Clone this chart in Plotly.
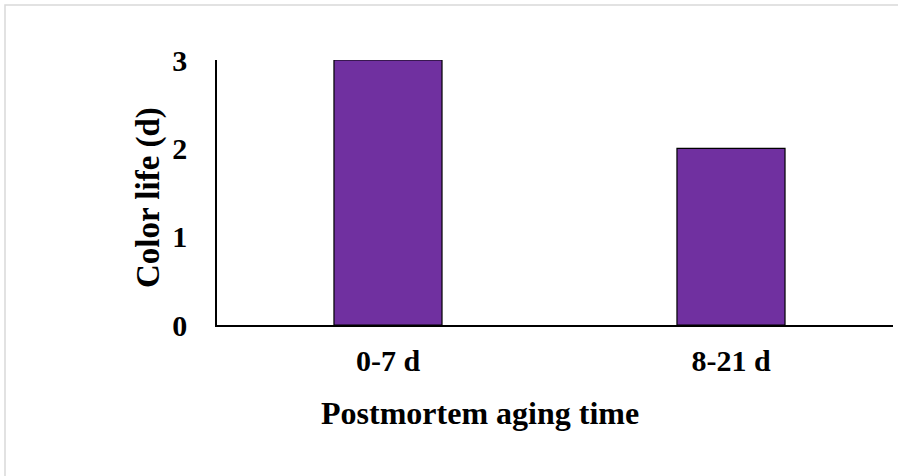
import plotly.graph_objects as go

categories = ["0-7 d", "8-21 d"]
color_life = [3, 2]
y_ticks = [0, 1, 2, 3]

W, H = 898, 476
L, R, T, B = 217, 5, 60, 151
pw = W - L - R
ph = H - T - B

font_family = "Liberation Serif, Times New Roman, serif"

fig = go.Figure(go.Bar(
    x=[0, 1], y=color_life,
    marker=dict(color="#7030A0", line=dict(color="black", width=1.2)),
    width=0.315,
))

fig.update_layout(
    width=W, height=H,
    margin=dict(l=L, r=R, t=T, b=B),
    paper_bgcolor="white", plot_bgcolor="white",
    showlegend=False,
    font=dict(family=font_family, size=30, color="black"),
    xaxis=dict(
        range=[-0.4985, 1.4723],
        tickvals=[0, 1], ticktext=categories,
        showline=True, linecolor="black", linewidth=1.5,
        showgrid=False, zeroline=False, ticks="", ticklabelstandoff=8,
        tickfont=dict(size=30, family=font_family, weight="bold"),
    ),
    yaxis=dict(
        range=[0, 3], tickvals=y_ticks,
        showline=True, linecolor="black", linewidth=1.5,
        showgrid=False, zeroline=False, ticks="", ticklabelstandoff=22,
        tickfont=dict(size=30, family=font_family, weight="bold"),
    ),
    annotations=[
        dict(text="<b>Postmortem aging time</b>", xref="paper", yref="paper",
             x=(480 - L) / pw, y=(H - B - 413) / ph, xanchor="center", yanchor="middle",
             showarrow=False, font=dict(size=32, family=font_family)),
        dict(text="<b>Color life (d)</b>", xref="paper", yref="paper",
             x=(148 - L) / pw, y=(H - B - 198) / ph, xanchor="center", yanchor="middle",
             textangle=-90, showarrow=False, font=dict(size=33, family=font_family)),
    ],
    shapes=[
        dict(type="rect", xref="paper", yref="paper",
             x0=(5 - L) / pw, x1=(W + 20 - L) / pw,
             y0=(H - B - (H + 20)) / ph, y1=(H - B - 5) / ph,
             line=dict(color="#d9d9d9", width=1.5), fillcolor="rgba(0,0,0,0)",
             layer="below"),
    ],
)

fig.write_html("out.html", config={"displayModeBar": False},
               post_script="document.body.style.margin='0';")
